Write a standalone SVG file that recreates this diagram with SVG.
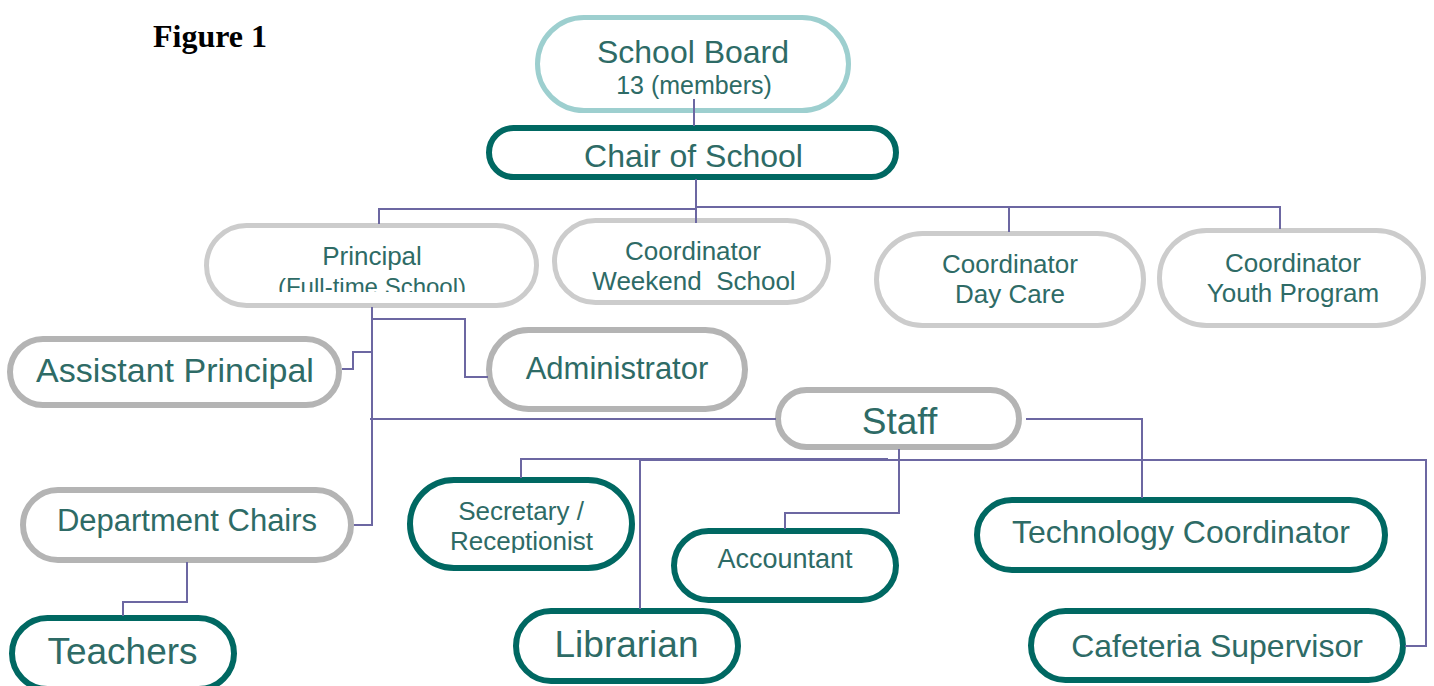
<svg xmlns="http://www.w3.org/2000/svg" width="1434" height="686" viewBox="0 0 1434 686">
  <style>
    .box { fill: #ffffff; }
    .board { stroke: #9dcfcf; stroke-width: 5; }
    .teal { stroke: #006862; stroke-width: 6; }
    .light { stroke: #cccccc; stroke-width: 5; }
    .grey { stroke: #b4b4b4; stroke-width: 6; }
    .lbl { font-family: "Liberation Sans", Arial, sans-serif; fill: #2e6b66; text-anchor: middle; }
    .link { fill: none; stroke: #6c67a2; stroke-width: 2; }
    .title { font-family: "Liberation Serif", "Times New Roman", serif; font-weight: bold; font-size: 32px; fill: #000000; }
  </style>
  <defs>
    <clipPath id="clip-principal"><rect x="206" y="226" width="330" height="66"/></clipPath>
    <clipPath id="clip-secretary"><rect x="410" y="480" width="222" height="73"/></clipPath>
  </defs>
  <rect width="1434" height="686" fill="#ffffff"/>

  <text class="title" x="153" y="47">Figure 1</text>

  <g id="school-board">
    <rect class="box board" x="537.5" y="17.5" width="311" height="93" rx="46.5"/>
    <text class="lbl" x="693" y="63" font-size="32">School Board</text>
    <text class="lbl" x="694" y="94" font-size="25">13 (members)</text>
  </g>
  <g id="chair">
    <rect class="box teal" x="489" y="128" width="407" height="49" rx="24.5"/>
    <text class="lbl" x="693.5" y="167" font-size="32">Chair of School</text>
  </g>
  <g id="principal">
    <rect class="box light" x="206.5" y="225.5" width="330" height="80" rx="40"/>
    <g clip-path="url(#clip-principal)">
      <text class="lbl" x="372" y="265" font-size="26">Principal</text>
      <text class="lbl" x="372" y="295" font-size="24">(Full-time School)</text>
    </g>
  </g>
  <g id="weekend-school">
    <rect class="box light" x="554.5" y="220.5" width="274" height="82" rx="41"/>
    <text class="lbl" x="693" y="260" font-size="26">Coordinator</text>
    <text class="lbl" x="694" y="290" font-size="26">Weekend&#160; School</text>
  </g>
  <g id="day-care">
    <rect class="box light" x="876.5" y="233.5" width="267" height="92" rx="46"/>
    <text class="lbl" x="1010" y="273" font-size="26">Coordinator</text>
    <text class="lbl" x="1010" y="303" font-size="26">Day Care</text>
  </g>
  <g id="youth-program">
    <rect class="box light" x="1159.5" y="230.5" width="264" height="95" rx="47"/>
    <text class="lbl" x="1293" y="272" font-size="26">Coordinator</text>
    <text class="lbl" x="1293" y="302" font-size="26">Youth Program</text>
  </g>
  <g id="assistant-principal">
    <rect class="box grey" x="10" y="339" width="329" height="66" rx="33"/>
    <text class="lbl" x="175" y="382" font-size="34">Assistant Principal</text>
  </g>
  <g id="administrator">
    <rect class="box grey" x="489" y="330" width="256" height="79" rx="39.5"/>
    <text class="lbl" x="617" y="379" font-size="31">Administrator</text>
  </g>
  <g id="staff">
    <rect class="box grey" x="778" y="390" width="241" height="57" rx="28.5"/>
    <text class="lbl" x="899.5" y="434" font-size="37">Staff</text>
  </g>
  <g id="department-chairs">
    <rect class="box grey" x="23" y="490" width="328" height="70" rx="35"/>
    <text class="lbl" x="187" y="531" font-size="31">Department Chairs</text>
  </g>
  <g id="teachers">
    <rect class="box teal" x="12" y="618" width="222" height="71" rx="35.5"/>
    <text class="lbl" x="122.5" y="664" font-size="37">Teachers</text>
  </g>
  <g id="secretary">
    <rect class="box teal" x="410" y="480" width="222" height="88" rx="44"/>
    <g clip-path="url(#clip-secretary)">
      <text class="lbl" x="521" y="520" font-size="26">Secretary /</text>
      <text class="lbl" x="521.5" y="550" font-size="26">Receptionist</text>
    </g>
  </g>
  <g id="accountant">
    <rect class="box teal" x="674" y="531" width="222" height="69" rx="34.5"/>
    <text class="lbl" x="785" y="568" font-size="27">Accountant</text>
  </g>
  <g id="librarian">
    <rect class="box teal" x="516" y="611" width="222" height="70" rx="35"/>
    <text class="lbl" x="626.5" y="657" font-size="37">Librarian</text>
  </g>
  <g id="technology-coordinator">
    <rect class="box teal" x="977" y="500" width="408" height="70" rx="35"/>
    <text class="lbl" x="1181" y="543" font-size="32">Technology Coordinator</text>
  </g>
  <g id="cafeteria-supervisor">
    <rect class="box teal" x="1031" y="611" width="372" height="69" rx="34.5"/>
    <text class="lbl" x="1217" y="657" font-size="32">Cafeteria Supervisor</text>
  </g>

  <g id="connectors">
    <!-- board to chair, chair to coordinators -->
    <path class="link" d="M694 99 V126"/>
    <path class="link" d="M696 179 V223"/>
    <path class="link" d="M379 224 V209 H697"/>
    <path class="link" d="M697 207 H1280 V229"/>
    <path class="link" d="M1009 207 V232"/>
    <!-- principal trunk -->
    <path class="link" d="M372 307 V525 H354"/>
    <path class="link" d="M372 319 H465 V377 H488"/>
    <path class="link" d="M372 352 H353 V369 H342"/>
    <path class="link" d="M370 419 H776"/>
    <!-- department chairs to teachers -->
    <path class="link" d="M187 562 V602 H123 V616"/>
    <!-- staff branches -->
    <path class="link" d="M1026 419 H1142 V498"/>
    <path class="link" d="M899 449 V513 H785 V529"/>
    <path class="link" d="M521 478 V459 H888"/>
    <path class="link" d="M640 609 V460 H1426 V646 H1405"/>
  </g>
</svg>
